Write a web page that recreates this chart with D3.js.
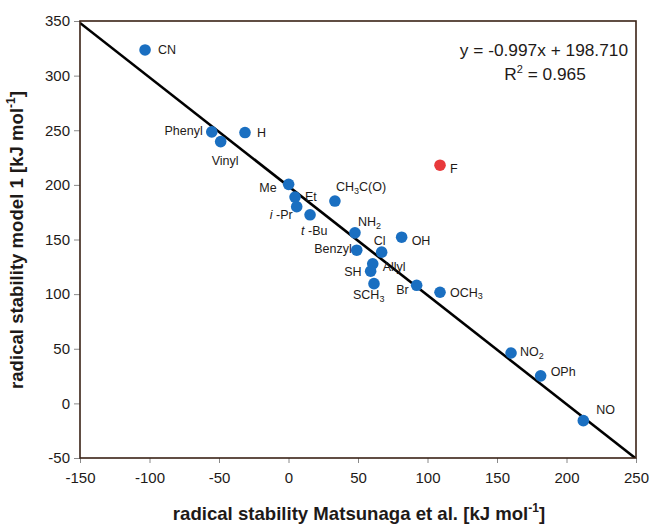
<!DOCTYPE html>
<html><head><meta charset="utf-8">
<script src="https://cdn.jsdelivr.net/npm/d3@7/dist/d3.min.js"></script>
<style>body{margin:0;background:#fff;}svg{display:block;font-family:"Liberation Sans",Arial,sans-serif;}</style>
</head><body><svg id="c" width="651" height="525"></svg>
<script>
const names = ["CN","Phenyl","Vinyl","H","Me","Et","i-Pr","t-Bu","CH3C(O)","NH2","OH","Benzyl","Cl","Allyl","SH","SCH3","Br","OCH3","NO2","OPh","NO","F"];
const xVals = [-103.2,-55.2,-48.8,-31.3,0.1,4.7,5.9,15.5,33.4,47.8,81.4,49.1,67.0,60.6,59.1,61.5,92.2,109.0,160.1,181.4,212.1,109.0];
const yVals = [323.5,248.5,239.6,247.9,200.5,188.8,180.0,172.6,185.2,156.1,152.1,140.2,138.4,127.7,121.0,109.6,108.1,101.7,46.1,25.2,-15.8,218.0];
const outliers = ["F"];
// label offsets [dx, dy, anchor]
const labelOffsets = [[13,0,"start"],[-9,-1,"end"],[-9,19,"start"],[12,0,"start"],[-12,3,"end"],[10,0,"start"],[-4,8,"end"],[-9,16,"start"],[1,-14,"start"],[3,-11,"start"],[10,3,"start"],[-5,-2,"end"],[-8,-12,"start"],[10,3,"start"],[-9,0,"end"],[-21,11,"start"],[-8,4,"end"],[10,0,"start"],[9,-1,"start"],[10,-4,"start"],[13,-11,"start"],[10,3,"start"]];
const xTicks = [-150,-100,-50,0,50,100,150,200,250];
const yTicks = [-50,0,50,100,150,200,250,300,350];
const slope = -0.997, intercept = 198.710, r2 = "0.965";

const svg = d3.select("#c");
const x = d3.scaleLinear().domain([-150,250]).range([80,636]);
const y = d3.scaleLinear().domain([-50,350]).range([458,21]);
const ink = "#1e1a18";

// axes ticks
const xAxis = d3.axisBottom(x).tickValues(xTicks).tickFormat(d=>String(d)).tickSize(5).tickPadding(6);
const gx = svg.append("g").attr("transform","translate(0,458)").call(xAxis);
const yAxis = d3.axisLeft(y).tickValues(yTicks).tickFormat(d=>String(d)).tickSize(6).tickPadding(4);
const gy = svg.append("g").attr("transform","translate(80,0)").call(yAxis);
[gx,gy].forEach(g=>{
  g.select(".domain").remove();
  g.selectAll(".tick line").attr("stroke","#8a8a8a");
  g.selectAll(".tick text").attr("font-size",15).attr("fill",ink).attr("font-family","Liberation Sans, Arial, sans-serif");
});
gx.selectAll(".tick text").attr("dy","0.95em");

// clip
svg.append("clipPath").attr("id","pc").append("rect")
  .attr("x",x(-150)).attr("y",y(350)).attr("width",x(250)-x(-150)).attr("height",y(-50)-y(350));

// regression line
svg.append("line").attr("clip-path","url(#pc)")
  .attr("x1",x(-150)).attr("y1",y(slope*-150+intercept))
  .attr("x2",x(250)).attr("y2",y(slope*250+intercept))
  .attr("stroke","#000").attr("stroke-width",2.6);

// frame
svg.append("rect").attr("x",x(-150)).attr("y",y(350)).attr("width",x(250)-x(-150)).attr("height",y(-50)-y(350))
  .attr("fill","none").attr("stroke","#3a2216").attr("stroke-width",1.6);

// points
svg.append("g").selectAll("circle").data(names).join("circle")
  .attr("cx",(d,i)=>x(xVals[i])).attr("cy",(d,i)=>y(yVals[i])).attr("r",5.8)
  .attr("fill",d=>outliers.includes(d)?"#e8393b":"#1a6fc1");

// labels
const lg = svg.append("g").attr("font-size",12.5).attr("fill",ink);
names.forEach((n,i)=>{
  const [dx,dy,anc] = labelOffsets[i];
  const t = lg.append("text").attr("x",x(xVals[i])+dx).attr("y",y(yVals[i])+dy).attr("dy","0.35em").attr("text-anchor",anc);
  let s = n;
  if (/^[it]-/.test(s)) { t.append("tspan").attr("font-style","italic").text(s[0]+" "); s = s.slice(1); }
  const parts = s.match(/[A-Za-z()\-]+|\d+/g);
  let sub = false;
  parts.forEach(p=>{
    if (/^\d+$/.test(p)) { t.append("tspan").attr("font-size",9).attr("dy","0.3em").text(p); sub = true; }
    else { const ts = t.append("tspan").text(p); if (sub) { ts.attr("dy","-0.24em"); sub = false; } }
  });
});

// equation
svg.append("text").attr("x",628).attr("y",56).attr("text-anchor","end").attr("font-size",17.3).attr("fill",ink)
  .text(`y = ${slope}x + ${intercept.toFixed(3)}`);
const rt = svg.append("text").attr("x",545).attr("y",80).attr("text-anchor","middle").attr("font-size",17.3).attr("fill",ink);
rt.append("tspan").text("R");
rt.append("tspan").attr("font-size",11).attr("dy","-0.6em").text("2");
rt.append("tspan").attr("dy","0.4em").text(" = " + r2);

// axis titles
const xt = svg.append("text").attr("x",359).attr("y",520).attr("text-anchor","middle").attr("font-size",18.6).attr("font-weight","bold").attr("fill",ink);
xt.append("tspan").text("radical stability Matsunaga et al. [kJ mol");
xt.append("tspan").attr("font-size",12).attr("dy","-0.7em").text("-1");
xt.append("tspan").attr("dy","0.45em").text("]");
const yt = svg.append("text").attr("transform","translate(23,240) rotate(-90)").attr("text-anchor","middle").attr("font-size",18.6).attr("font-weight","bold").attr("fill",ink);
yt.append("tspan").text("radical stability model 1 [kJ mol");
yt.append("tspan").attr("font-size",12).attr("dy","-0.7em").text("-1");
yt.append("tspan").attr("dy","0.45em").text("]");
</script></body></html>
